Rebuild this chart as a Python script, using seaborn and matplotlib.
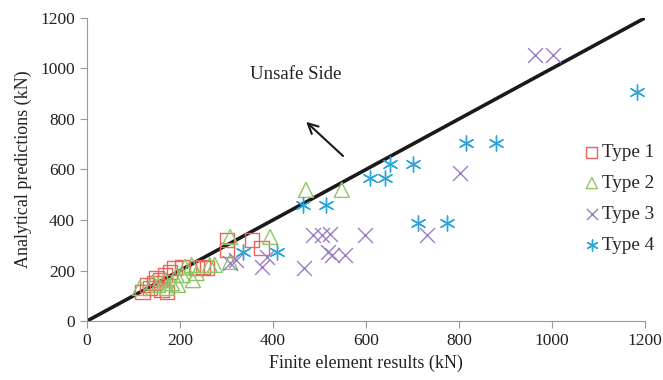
import matplotlib
matplotlib.use("Agg")
import matplotlib.pyplot as plt
import seaborn as sns
import pandas as pd

# ---- data (Finite element results, Analytical predictions), kN ----
type1_fe = [120, 136, 129, 146, 157, 168, 179, 189, 206, 236, 250, 161, 172, 150, 258, 301, 301, 355, 376]
type1_an = [115, 131, 143, 150, 162, 182, 194, 210, 214, 210, 214, 123, 115, 170, 210, 321, 281, 321, 289]

type2_fe = [114, 153, 168, 183, 196, 206, 211, 225, 236, 228, 193, 172, 142, 264, 275, 308, 308, 394, 471, 548]
type2_an = [131, 143, 162, 150, 143, 182, 214, 222, 190, 162, 182, 131, 154, 222, 222, 234, 333, 333, 519, 519]

type3_fe = [963, 1002, 802, 731, 486, 505, 523, 598, 518, 527, 555, 467, 308, 376, 387, 320]
type3_an = [1053, 1053, 586, 341, 341, 341, 345, 341, 273, 261, 261, 210, 230, 214, 253, 240]

type4_fe = [1183, 880, 815, 774, 712, 465, 515, 609, 641, 651, 701, 335, 409]
type4_an = [907, 705, 705, 388, 388, 460, 460, 566, 566, 620, 620, 273, 273]

labels = ["Type 1", "Type 2", "Type 3", "Type 4"]
ticks = [0, 200, 400, 600, 800, 1000, 1200]

series = [(type1_fe, type1_an), (type2_fe, type2_an), (type3_fe, type3_an), (type4_fe, type4_an)]
colors = ["#f0625c", "#8cc765", "#9b7dc4", "#2aa5d9"]
markers = ["s", "^", "x", (6, 2, 0)]
filled = [True, True, False, False]
sizes = [110, 115, 115, 115]

sns.set_theme(style="white")
plt.rcParams["font.family"] = ["Liberation Serif", "DejaVu Serif"]

fig = plt.figure(figsize=(6.63, 3.80), dpi=100)
ax = fig.add_axes([0.131, 0.155, 0.842, 0.798])

# 1:1 line
ax.plot([0, 1200], [0, 1200], color="#1a1a1a", lw=2.6, zorder=1)

for (fe, an), lab, c, m, f, s in zip(series, labels, colors, markers, filled, sizes):
    df = pd.DataFrame({"fe": fe, "an": an})
    if f:
        sns.scatterplot(data=df, x="fe", y="an", marker=m, s=s, facecolors="none",
                        edgecolor=c, linewidth=1.0, ax=ax, label=lab, zorder=3)
    else:
        sns.scatterplot(data=df, x="fe", y="an", marker=m, s=s, color=c,
                        linewidth=1.0, ax=ax, label=lab, zorder=3)

ax.set_xlim(0, 1200)
ax.set_ylim(0, 1200)
ax.set_xticks(ticks)
ax.set_yticks(ticks)
ax.set_xlabel("Finite element results (kN)", fontsize=13, color="#222222", labelpad=4)
ax.set_ylabel("Analytical predictions (kN)", fontsize=13, color="#222222", labelpad=6)
ax.tick_params(axis="both", labelsize=12.5, colors="#222222", length=5, width=0.8,
               direction="out", left=True, bottom=True)
ax.tick_params(axis="both", color="#999999")

for side in ["top", "right"]:
    ax.spines[side].set_visible(False)
for side in ["left", "bottom"]:
    ax.spines[side].set_color("#999999")
    ax.spines[side].set_linewidth(0.8)

ax.text(350, 975, "Unsafe Side", fontsize=13.5, color="#222222", va="center")
ax.annotate("", xy=(467, 796), xytext=(555, 646),
            arrowprops=dict(arrowstyle="->", color="#1a1a1a", lw=1.5, mutation_scale=18))

leg = ax.legend(loc="upper left", bbox_to_anchor=(0.872, 0.61), frameon=False,
                fontsize=13.8, handletextpad=0.0, labelspacing=0.7, borderaxespad=0,
                handlelength=1.1, markerscale=0.75)

fig.savefig("out.png", dpi=100)
